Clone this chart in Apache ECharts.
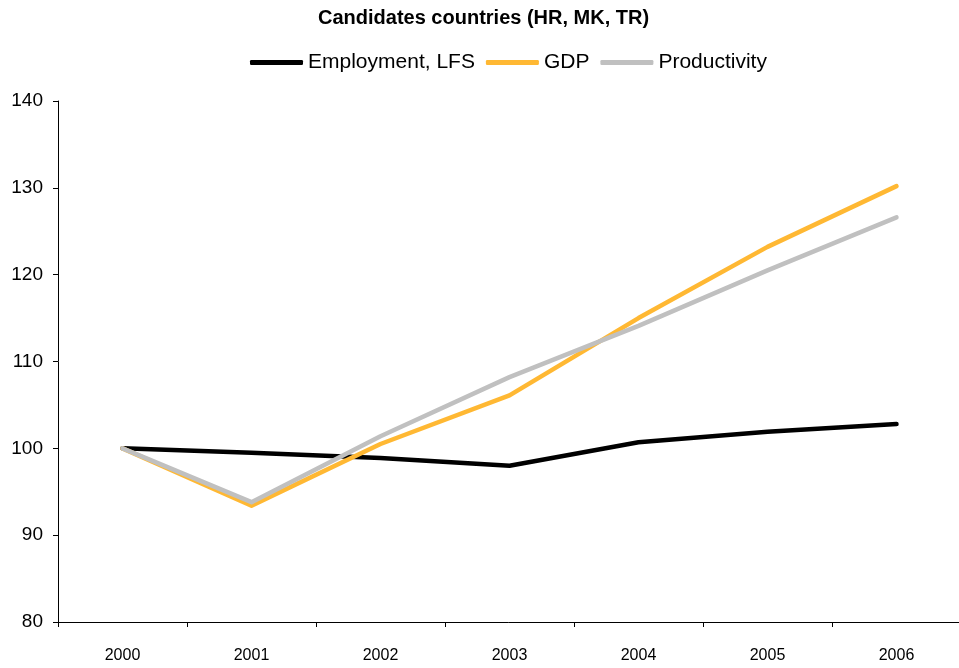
<!DOCTYPE html>
<html><head><meta charset="utf-8">
<script src="https://cdn.jsdelivr.net/npm/echarts@6/dist/echarts.min.js"></script>
<style>html,body{margin:0;padding:0;background:#fff}#c{width:959px;height:668px}</style>
</head><body><div id="c"></div>
<script>
var years = ['2000','2001','2002','2003','2004','2005','2006'];
var employment = [100, 99.5, 98.9, 98.0, 100.7, 101.9, 102.8];
var gdp = [100, 93.4, 100.5, 106.1, 115.0, 123.2, 130.2];
var productivity = [100, 93.8, 101.4, 108.2, 114.1, 120.5, 126.6];
var yTicks = {min: 80, max: 140, interval: 10};

var font = 'Liberation Sans, Arial, sans-serif';
var chart = echarts.init(document.getElementById('c'));
function s(name, data, color) {
  return {name: name, type: 'line', data: data, symbol: 'none', smooth: false,
    lineStyle: {color: color, width: 4.5, cap: 'round', join: 'round'}, itemStyle: {color: color}};
}
chart.setOption({
  animation: false,
  title: {text: 'Candidates countries (HR, MK, TR)', left: 313, top: 3,
    textStyle: {fontFamily: font, fontSize: 20, fontWeight: 'bold', color: '#000'}},
  legend: {top: 47, left: 245, icon: 'roundRect', itemWidth: 53, itemHeight: 5, itemGap: 11,
    textStyle: {fontFamily: font, fontSize: 21, color: '#000'},
    data: ['Employment, LFS', 'GDP', 'Productivity']},
  grid: {left: 58, width: 903, top: 101, bottom: 46, containLabel: false, outerBoundsMode: 'none'},
  xAxis: {type: 'category', data: years, boundaryGap: true,
    axisLine: {lineStyle: {color: '#000', width: 1}},
    axisTick: {show: true, length: 5, lineStyle: {color: '#000'}},
    axisLabel: {fontFamily: font, fontSize: 16, color: '#000', margin: 26}},
  yAxis: {type: 'value', min: yTicks.min, max: yTicks.max, interval: yTicks.interval,
    splitLine: {show: false},
    axisLine: {show: true, lineStyle: {color: '#000', width: 1}},
    axisTick: {show: true, length: 5, lineStyle: {color: '#000'}},
    axisLabel: {fontFamily: font, fontSize: 19, color: '#000', margin: 15}},
  series: [s('Employment, LFS', employment, '#000000'), s('GDP', gdp, '#FFB833'), s('Productivity', productivity, '#C0C0C0')]
});
</script></body></html>
